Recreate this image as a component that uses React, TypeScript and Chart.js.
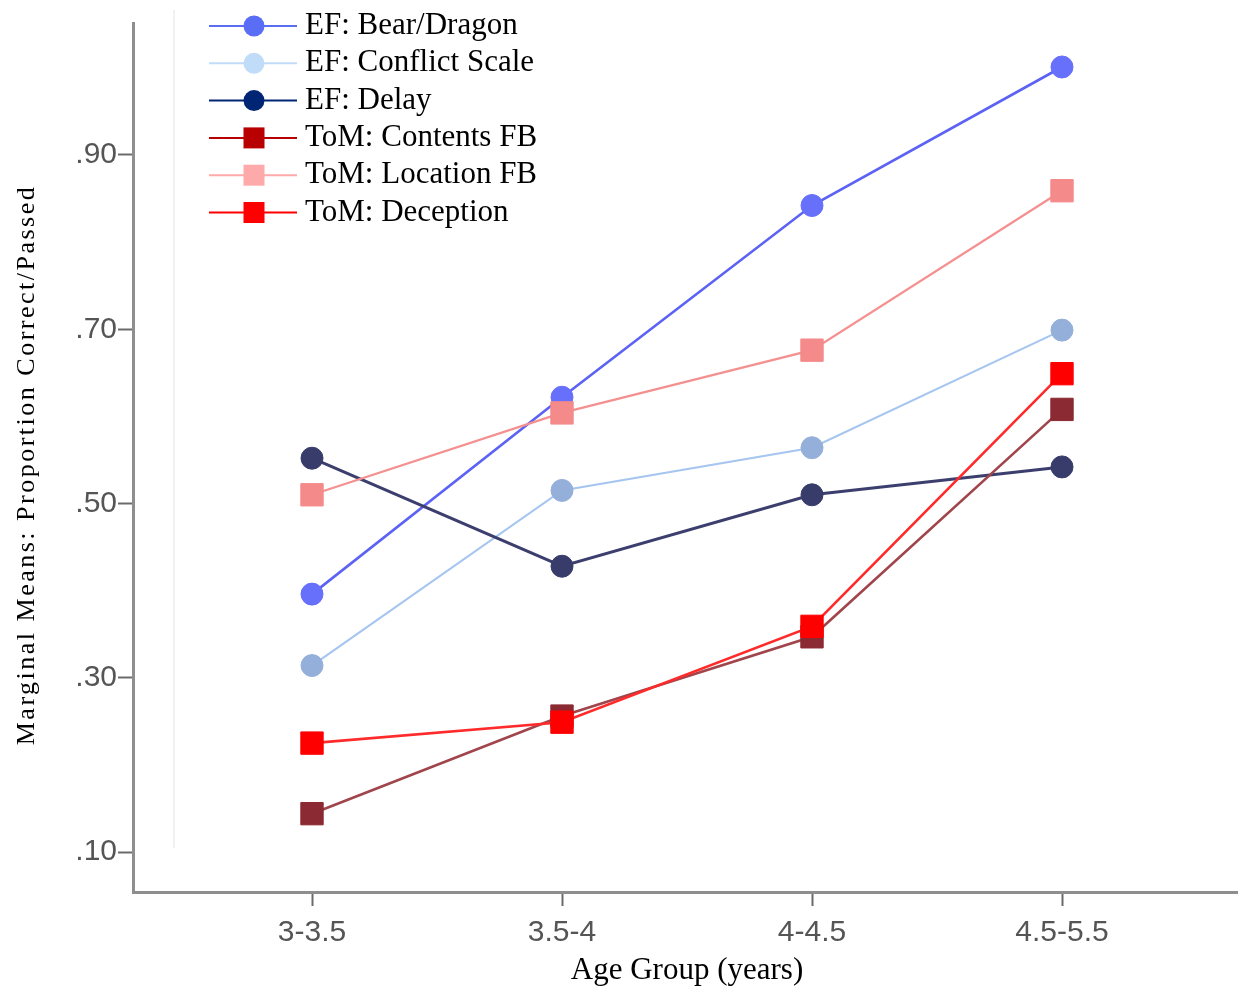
import React, { useEffect, useRef } from "react";
import { Chart, registerables } from "chart.js";

Chart.register(...registerables);

const categories = ["3-3.5", "3.5-4", "4-4.5", "4.5-5.5"];
const seriesNames = [
  "EF: Bear/Dragon",
  "EF: Conflict Scale",
  "EF: Delay",
  "ToM: Contents FB",
  "ToM: Location FB",
  "ToM: Deception",
];
const bearDragon = [0.396, 0.622, 0.842, 1.001];
const conflictScale = [0.314, 0.515, 0.564, 0.699];
const delay = [0.552, 0.428, 0.51, 0.542];
const contentsFB = [0.144, 0.256, 0.347, 0.608];
const locationFB = [0.51, 0.604, 0.676, 0.859];
const deception = [0.225, 0.249, 0.359, 0.649];
const yTicks = [0.1, 0.3, 0.5, 0.7, 0.9];
const yTickLabels = [".10", ".30", ".50", ".70", ".90"];

const seriesValues = [bearDragon, conflictScale, delay, contentsFB, locationFB, deception];
const markerShapes = ["circle", "circle", "circle", "rect", "rect", "rect"];
const lineColors = ["#5c62f4", "#a6c6f0", "#3c3f6e", "#a0454b", "#f59090", "#ff2a2a"];
const markerColors = ["#6670fa", "#94b0da", "#383c6a", "#8b2a32", "#f58a8a", "#ff0000"];
const lineWidths = [2.6, 2.2, 3, 2.6, 2.2, 2.6];
const legendColors = ["#5a6ef5", "#c0dcf8", "#002575", "#b80000", "#ffaaaa", "#ff0000"];

const SERIF = "'Liberation Serif', 'Times New Roman', serif";
const SANS = "'Liberation Sans', Arial, sans-serif";

const overlayPlugin = {
  id: "overlay",
  beforeDatasetsDraw(chart: any) {
    const ctx = chart.ctx;
    ctx.save();
    ctx.strokeStyle = "#f1f1f1";
    ctx.lineWidth = 2;
    ctx.beginPath();
    ctx.moveTo(174, 10);
    ctx.lineTo(174, 848);
    ctx.stroke();
    ctx.restore();
  },
  afterDraw(chart: any) {
    const ctx = chart.ctx;
    ctx.save();
    // legend
    seriesNames.forEach((name, i) => {
      const y = 26 + 37.3 * i;
      ctx.strokeStyle = legendColors[i];
      ctx.lineWidth = 2;
      ctx.beginPath();
      ctx.moveTo(209, y);
      ctx.lineTo(297, y);
      ctx.stroke();
      ctx.fillStyle = legendColors[i];
      if (markerShapes[i] === "circle") {
        ctx.beginPath();
        ctx.arc(254, y, 10.5, 0, Math.PI * 2);
        ctx.fill();
      } else {
        ctx.fillRect(243.5, y - 10.5, 21, 21);
      }
      ctx.fillStyle = "#000";
      ctx.font = "31px " + SERIF;
      ctx.textBaseline = "middle";
      ctx.textAlign = "left";
      ctx.fillText(name, 305, y);
    });
    // y axis title
    ctx.save();
    ctx.translate(27, 465);
    ctx.rotate(-Math.PI / 2);
    ctx.font = "26px " + SERIF;
    (ctx as any).letterSpacing = "2.5px";
    ctx.textAlign = "center";
    ctx.textBaseline = "middle";
    ctx.fillStyle = "#000";
    ctx.fillText("Marginal Means: Proportion Correct/Passed", 0, 0);
    ctx.restore();
    // x axis title
    ctx.font = "31px " + SERIF;
    ctx.textAlign = "center";
    ctx.textBaseline = "middle";
    ctx.fillStyle = "#000";
    ctx.fillText("Age Group (years)", 687, 971);
    ctx.restore();
  },
};

export default function App() {
  const ref = useRef<HTMLCanvasElement>(null);
  useEffect(() => {
    document.body.style.margin = "0";
    const canvas = ref.current;
    if (!canvas) return;
    const chart = new Chart(canvas, {
      type: "line",
      data: {
        datasets: seriesNames.map((name, i) => ({
          label: name,
          data: seriesValues[i].map((v, k) => ({ x: k, y: v })),
          borderColor: lineColors[i],
          borderWidth: lineWidths[i],
          backgroundColor: markerColors[i],
          pointBackgroundColor: markerColors[i],
          pointBorderColor: markerColors[i],
          pointBorderWidth: 1,
          pointStyle: markerShapes[i] as any,
          pointRadius: markerShapes[i] === "circle" ? 11 : 15.8,
          tension: 0,
          fill: false,
          clip: false as any,
          order: seriesNames.length - i,
        })),
      },
      options: {
        animation: false,
        responsive: false,
        maintainAspectRatio: false,
        layout: { autoPadding: false, padding: { top: 23, right: 0, left: 0, bottom: 0 } },
        plugins: {
          legend: { display: false },
          tooltip: { enabled: false },
          title: { display: false },
        },
        scales: {
          x: {
            type: "linear",
            min: -0.716,
            max: 3.704,
            afterBuildTicks: (scale: any) => {
              scale.ticks = categories.map((_, i) => ({ value: i }));
            },
            afterFit: (scale: any) => {
              scale.height = 101;
              scale.paddingLeft = 0;
              scale.paddingRight = 0;
            },
            ticks: {
              callback: (v: any) => categories[v] ?? "",
              font: { family: SANS, size: 30 },
              color: "#555",
              padding: 9,
              maxRotation: 0,
              autoSkip: false,
            },
            grid: {
              drawOnChartArea: false,
              drawTicks: true,
              tickLength: 14,
              tickWidth: 2,
              tickColor: "#6a6a6a",
            },
            border: { color: "#8e8e8e", width: 3 },
          },
          y: {
            type: "linear",
            min: 0.0541,
            max: 1.0515,
            afterBuildTicks: (scale: any) => {
              scale.ticks = yTicks.map((v) => ({ value: v }));
            },
            afterFit: (scale: any) => {
              scale.width = 133;
              scale.paddingTop = 0;
              scale.paddingBottom = 0;
            },
            ticks: {
              callback: (_v: any, idx: number) => yTickLabels[idx],
              font: { family: SANS, size: 30 },
              color: "#555",
              padding: 1,
              autoSkip: false,
            },
            grid: {
              drawOnChartArea: false,
              drawTicks: true,
              tickLength: 15,
              tickWidth: 2,
              tickColor: "#6a6a6a",
            },
            border: { color: "#8e8e8e", width: 3 },
          },
        },
      },
      plugins: [overlayPlugin],
    });
    return () => chart.destroy();
  }, []);
  return (
    <div style={{ width: 1238, height: 993, background: "#fff" }}>
      <canvas ref={ref} width={1238} height={993} style={{ display: "block" }} />
    </div>
  );
}
